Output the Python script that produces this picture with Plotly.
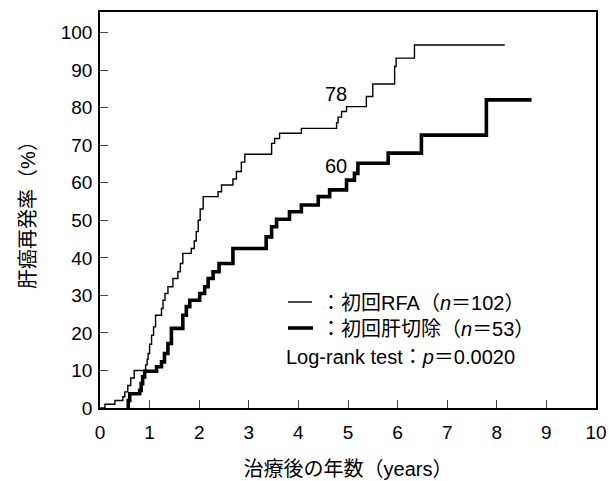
import plotly.graph_objects as go

# RFA group (thin line): event times (years) and cumulative recurrence (%)
rfa_t = [0, 0.10, 0.30, 0.46, 0.50, 0.56, 0.62, 0.69, 0.92, 0.95, 0.97, 1.00, 1.04, 1.08, 1.12,
         1.24, 1.27, 1.31, 1.37, 1.47, 1.57, 1.62, 1.67, 1.84, 1.90, 1.94, 1.98, 2.02, 2.08,
         2.38, 2.45, 2.68, 2.75, 2.85, 2.92, 3.46, 3.52, 3.62, 4.06, 4.77, 4.80, 4.87, 4.97,
         5.37, 5.50, 5.94, 5.97, 6.34, 8.16]
rfa_y = [0, 1.0, 2.0, 3.0, 4.3, 6.0, 8.0, 10.0, 11.5, 13.0, 14.5, 17.0, 19.4, 21.6, 24.7,
         26.5, 28.7, 30.5, 32.3, 34.5, 36.3, 38.5, 41.2, 42.5, 44.5, 47.0, 50.0, 53.0, 56.3,
         57.6, 59.4, 61.0, 63.0, 65.5, 67.6, 70.5, 71.8, 73.2, 74.5, 76.0, 77.5, 79.0, 80.3,
         83.0, 86.3, 91.0, 93.2, 96.7, 96.7]

# Hepatectomy group (thick line)
hep_t = [0.56, 0.57, 0.60, 0.80, 0.83, 0.86, 0.90, 1.14, 1.24, 1.30, 1.37, 1.44, 1.67, 1.74,
         1.81, 2.01, 2.11, 2.18, 2.28, 2.40, 2.68, 3.35, 3.46, 3.56, 3.82, 4.06, 4.40, 4.63,
         4.97, 5.13, 5.20, 5.81, 6.48, 7.79, 8.70]
hep_y = [0, 2.0, 3.8, 4.7, 6.5, 8.3, 9.8, 11.0, 12.3, 14.5, 17.2, 21.2, 24.7, 27.0,
         28.7, 30.5, 32.3, 34.5, 36.3, 38.5, 42.5, 45.6, 48.3, 50.3, 52.3, 54.1, 56.3, 58.1,
         60.7, 62.5, 65.2, 67.9, 72.7, 82.1, 82.1]

x_ticks = list(range(0, 11))
y_ticks = list(range(0, 101, 10))

FONT = "Liberation Sans, Arial, Noto Sans CJK JP, sans-serif"

fig = go.Figure()
fig.add_trace(go.Scatter(x=rfa_t, y=rfa_y, mode="lines", line=dict(color="black", width=1.4, shape="hv"),
                         showlegend=False, hoverinfo="skip"))
fig.add_trace(go.Scatter(x=hep_t, y=hep_y, mode="lines", line=dict(color="black", width=3.6, shape="hv"),
                         showlegend=False, hoverinfo="skip"))

fig.update_layout(
    width=612, height=481,
    margin=dict(l=100, r=16, t=12, b=73),
    paper_bgcolor="white", plot_bgcolor="white",
    font=dict(family=FONT, size=19, color="black"),
)
fig.update_xaxes(range=[0, 10], tickvals=x_ticks, ticks="inside", ticklen=8, tickwidth=1.3,
                 showline=True, linecolor="black", linewidth=1.5, mirror=True, showgrid=False,
                 zeroline=False, ticklabelstandoff=6, automargin=False,
                 title=dict(text="治療後の年数（years）", font=dict(size=20), standoff=20))
fig.update_yaxes(range=[0, 105.5], tickvals=y_ticks, ticks="inside", ticklen=8, tickwidth=1.3,
                 showline=True, linecolor="black", linewidth=1.5, mirror=True, showgrid=False,
                 zeroline=False, ticklabelstandoff=2, automargin=False,
                 title=dict(text="肝癌再発率（%）", font=dict(size=20), standoff=20))

# curve labels
fig.add_annotation(x=4.76, y=83.6, text="78", showarrow=False, font=dict(size=20))
fig.add_annotation(x=4.76, y=64.6, text="60", showarrow=False, font=dict(size=20))

# legend samples
def px_x(p):
    return (p - 100) / 496.0

def px_y(p):
    return (408 - p) / 396.0

fig.add_shape(type="line", xref="paper", yref="paper", x0=px_x(288), x1=px_x(312), y0=px_y(302), y1=px_y(302),
              line=dict(color="black", width=1.4))
fig.add_shape(type="line", xref="paper", yref="paper", x0=px_x(288), x1=px_x(313), y0=px_y(328), y1=px_y(328),
              line=dict(color="black", width=3.6))
fig.add_annotation(xref="paper", yref="paper", x=px_x(319), y=px_y(303), xanchor="left", yanchor="middle",
                   text="：初回RFA（<i>n</i>＝102）", showarrow=False, font=dict(size=20))
fig.add_annotation(xref="paper", yref="paper", x=px_x(319), y=px_y(329), xanchor="left", yanchor="middle",
                   text="：初回肝切除（<i>n</i>＝53）", showarrow=False, font=dict(size=20))
fig.add_annotation(xref="paper", yref="paper", x=px_x(284), y=px_y(357), xanchor="left", yanchor="middle",
                   text="Log-rank test：<i>p</i>＝0.0020", showarrow=False, font=dict(size=20))

fig.write_html("out.html")
